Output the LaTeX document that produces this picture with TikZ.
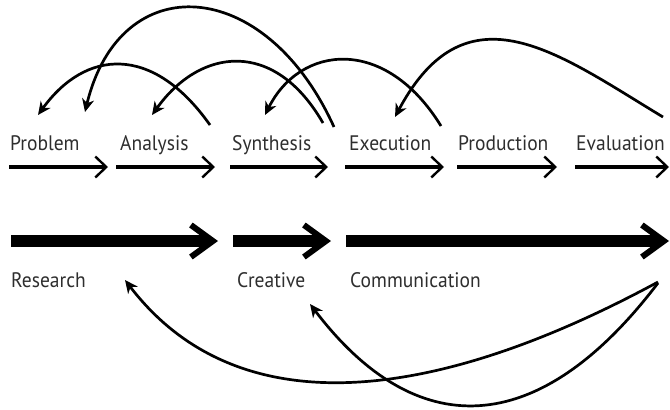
\documentclass[tikz,border=0pt]{standalone}
\usepackage{fontspec}
\setmainfont{PT Sans}[FakeStretch=0.93]
\usetikzlibrary{arrows.meta}
\begin{document}
\begin{tikzpicture}[x=1pt,y=-1pt,
  lbl/.style={anchor=base west, inner sep=0pt, font=\fontsize{21}{23}\selectfont, text=black!82},
  thinarr/.style={line width=4pt, -{Straight Barb[length=11pt,width=21pt,line width=2.4pt]}},
  thickarr/.style={line width=12pt, -{Straight Barb[length=22pt,width=32pt,line width=6pt]}},
  loop/.style={line width=2.7pt, -{Stealth[length=13pt,width=12pt,inset=4pt]}}
]
\useasboundingbox[fill=white] (0,0) rectangle (670,410);

% stage labels
\node[lbl] (problem)    at (10,150)  {Problem};
\node[lbl] (analysis)   at (120,150) {Analysis};
\node[lbl] (synthesis)  at (232,150) {Synthesis};
\node[lbl] (execution)  at (349,150) {Execution};
\node[lbl] (production) at (458,150) {Production};
\node[lbl] (evaluation) at (576,150) {Evaluation};

\node[lbl] (research)      at (11,287)  {Research};
\node[lbl] (creative)      at (237,287) {Creative};
\node[lbl] (communication) at (350,287) {Communication};

% thin arrows
\coordinate (p1) at (9,167);   \coordinate (p2) at (108,167);
\coordinate (a1) at (116,167); \coordinate (a2) at (215,167);
\coordinate (s1) at (230,167); \coordinate (s2) at (328,167);
\coordinate (e1) at (345,167); \coordinate (e2) at (444,167);
\coordinate (r1) at (457,167); \coordinate (r2) at (557,167);
\coordinate (v1) at (575,167); \coordinate (v2) at (669,167);
\draw[thinarr] (p1) -- (p2);
\draw[thinarr] (a1) -- (a2);
\draw[thinarr] (s1) -- (s2);
\draw[thinarr] (e1) -- (e2);
\draw[thinarr] (r1) -- (r2);
\draw[thinarr] (v1) -- (v2);

% thick arrows
\coordinate (R1) at (11,241);  \coordinate (R2) at (218,241);
\coordinate (C1) at (233,241); \coordinate (C2) at (331,241);
\coordinate (M1) at (346,241); \coordinate (M2) at (669,241);
\draw[thickarr] (R1) -- (R2);
\draw[thickarr] (C1) -- (C2);
\draw[thickarr] (M1) -- (M2);

% feedback arcs (top)
\coordinate (t1s) at (210,125); \coordinate (t1e) at (38,115);
\coordinate (t2s) at (334,127); \coordinate (t2e) at (85,112);
\coordinate (t3s) at (323,123); \coordinate (t3e) at (152,115);
\coordinate (t4s) at (441,126); \coordinate (t4e) at (265,115);
\coordinate (t5s) at (663,117); \coordinate (t5e) at (395,117);
\draw[loop] (t1s) .. controls (152,43) and (85,50) .. (t1e);
\draw[loop] (t2s) .. controls (265,-25) and (120,-33) .. (t2e);
\draw[loop] (t3s) .. controls (274,38) and (200,48) .. (t3e);
\draw[loop] (t4s) .. controls (385,35) and (300,45) .. (t4e);
\draw[loop] (t5s) .. controls (560,55) and (467,-18) .. (t5e);

% feedback arcs (bottom)
\coordinate (b1s) at (658,282); \coordinate (b1e) at (125,280);
\coordinate (b2s) at (658,283); \coordinate (b2e) at (310,304);
\draw[loop] (b1s) .. controls (440,400) and (240,430) .. (b1e);
\draw[loop] (b2s) .. controls (537,442) and (415,442) .. (b2e);
\end{tikzpicture}
\end{document}
